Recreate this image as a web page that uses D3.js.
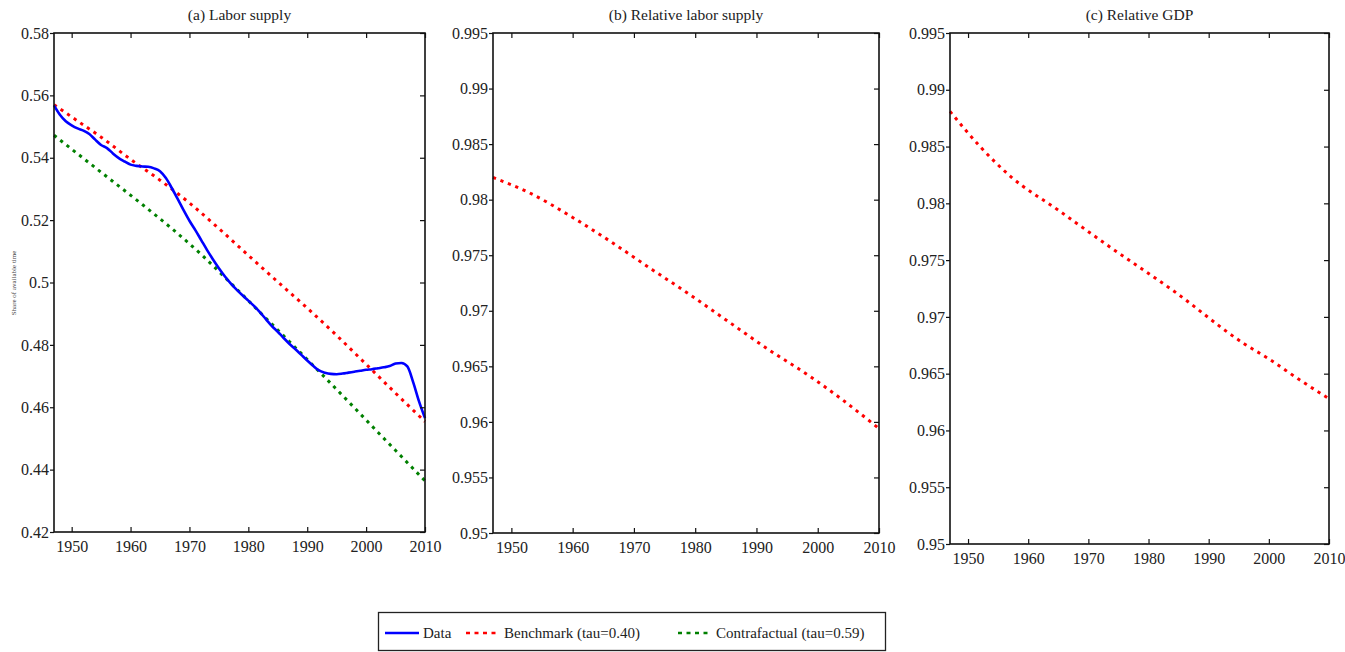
<!DOCTYPE html>
<html>
<head>
<meta charset="utf-8">
<script src="https://cdn.jsdelivr.net/npm/d3@7"></script>
<style>
  html, body { margin: 0; padding: 0; background: #fff; }
</style>
</head>
<body>
<svg id="chart" width="1345" height="652"></svg>
<script>
// ---------------- DATA ----------------
const panelTitles = ["(a) Labor supply", "(b) Relative labor supply", "(c) Relative GDP"];
const xTicks = [1950, 1960, 1970, 1980, 1990, 2000, 2010];
const xDomain = [1947, 2010];

const yTicksA = [0.42, 0.44, 0.46, 0.48, 0.50, 0.52, 0.54, 0.56, 0.58];
const yTickLabelsA = ["0.42", "0.44", "0.46", "0.48", "0.5", "0.52", "0.54", "0.56", "0.58"];
const yTicksBC = [0.95, 0.955, 0.96, 0.965, 0.97, 0.975, 0.98, 0.985, 0.99, 0.995];
const yTickLabelsBC = ["0.95", "0.955", "0.96", "0.965", "0.97", "0.975", "0.98", "0.985", "0.99", "0.995"];

// Panel (a) Data (blue)
const dataYears = [1947,1948,1949,1950,1951,1952,1953,1954,1955,1956,1957,1958,1959,1960,1961,1962,1963,1964,1965,1966,1967,1968,1969,1970,1971,1972,1973,1974,1975,1976,1977,1978,1979,1980,1981,1982,1983,1984,1985,1986,1987,1988,1989,1990,1991,1992,1993,1994,1995,1996,1997,1998,1999,2000,2001,2002,2003,2004,2005,2006,2007,2008,2009,2010];
const dataValues = [0.5568,0.5538,0.5517,0.5504,0.5494,0.5487,0.5476,0.5458,0.5441,0.5431,0.5414,0.5399,0.5388,0.5378,0.5374,0.5372,0.5371,0.5366,0.5357,0.5335,0.5303,0.5268,0.5232,0.5198,0.5168,0.5136,0.5104,0.5074,0.5046,0.5020,0.4997,0.4977,0.4959,0.4942,0.4924,0.4904,0.4882,0.4860,0.4842,0.4822,0.4803,0.4786,0.4768,0.4750,0.4733,0.4718,0.4711,0.4707,0.4706,0.4708,0.4711,0.4714,0.4717,0.4720,0.4722,0.4725,0.4728,0.4732,0.4740,0.4742,0.4731,0.4680,0.4618,0.4565];

// Panel (a) Benchmark (red)
const benchYears = [1947,1951,1955,1960,1965,1970,1975,1980,1985,1990,1995,2000,2005,2010];
const benchValues = [0.5570,0.5518,0.5466,0.5395,0.5328,0.5255,0.5173,0.5087,0.5002,0.4918,0.4830,0.4738,0.4645,0.4554];

// Panel (a) Contrafactual (green)
const contraYears = [1947,1952,1957,1962,1967,1972,1977,1982,1987,1992,1997,2002,2006,2010];
const contraValues = [0.5472,0.5398,0.5324,0.5250,0.5173,0.5090,0.4998,0.4904,0.4810,0.4715,0.4618,0.4520,0.4442,0.4364];

// Panel (b) Relative labor supply (red)
const relLaborYears = [1947,1953,1960,1966,1973,1979,1986,1992,1999,2004,2010];
const relLaborValues = [0.9820,0.9806,0.9784,0.9763,0.9737,0.9715,0.9688,0.9665,0.9640,0.9620,0.9594];

// Panel (c) Relative GDP (red)
const relGdpYears = [1947,1952,1957,1965,1974,1984,1996,2000,2005,2010];
const relGdpValues = [0.9881,0.9850,0.9824,0.9794,0.9760,0.97235,0.9676,0.9663,0.9645,0.9628];

const legendLabels = ["Data", "Benchmark (tau=0.40)", "Contrafactual (tau=0.59)"];

// ---------------- STYLE ----------------
const FONT = "'Liberation Serif', 'Times New Roman', 'DejaVu Serif', serif";
const BLUE = "#0000ff", RED = "#ff0000", GREEN = "#008000";
const DOT = "3.2,4.8";

const svg = d3.select("#chart").attr("font-family", FONT);

function zip(xs, ys) { return xs.map((x, i) => ({x, y: ys[i]})); }

function drawPanel(p) {
  const x = d3.scaleLinear().domain(xDomain).range([p.left, p.right]);
  const y = d3.scaleLinear().domain(p.yDomain).range([p.bottom, p.top]);
  const g = svg.append("g");

  const line = d3.line().x(d => x(d.x)).y(d => y(d.y)).curve(d3.curveMonotoneX);
  p.series.forEach(s => {
    g.append("path")
      .attr("d", line(zip(s.xs, s.ys)))
      .attr("fill", "none")
      .attr("stroke", s.color)
      .attr("stroke-width", s.dash ? 3 : 2.6)
      .attr("stroke-dasharray", s.dash ? DOT : null)
      .attr("stroke-linejoin", "round");
  });

  const len = 5;
  const bottomAxis = d3.axisBottom(x).tickValues(xTicks).tickFormat(d3.format("d"))
    .tickSizeInner(-len).tickSizeOuter(0).tickPadding(9);
  const gb = g.append("g").attr("transform", `translate(0,${p.bottom})`).call(bottomAxis);
  gb.select(".domain").remove();

  const topAxis = d3.axisTop(x).tickValues(xTicks).tickFormat("")
    .tickSizeInner(-len).tickSizeOuter(0);
  const gt = g.append("g").attr("transform", `translate(0,${p.top})`).call(topAxis);
  gt.select(".domain").remove();

  const leftAxis = d3.axisLeft(y).tickValues(p.yTicks)
    .tickFormat((d, i) => p.yLabels[i]).tickSizeInner(4).tickSizeOuter(0).tickPadding(1);
  const gl = g.append("g").attr("transform", `translate(${p.left},0)`).call(leftAxis);
  gl.select(".domain").remove();

  const rightAxis = d3.axisRight(y).tickValues(p.yTicks).tickFormat("")
    .tickSizeInner(-len).tickSizeOuter(0);
  const gr = g.append("g").attr("transform", `translate(${p.right},0)`).call(rightAxis);
  gr.select(".domain").remove();

  [gb, gt, gl, gr].forEach(a => a.attr("font-family", FONT).attr("font-size", 16));
  g.selectAll(".tick text").attr("fill", "#222");
  g.selectAll(".tick line").attr("stroke", "#111").attr("stroke-width", 1.2);

  g.append("rect")
    .attr("x", p.left).attr("y", p.top)
    .attr("width", p.right - p.left).attr("height", p.bottom - p.top)
    .attr("fill", "none").attr("stroke", "#111").attr("stroke-width", 1.6);

  g.append("text")
    .attr("x", (p.left + p.right) / 2).attr("y", 20)
    .attr("text-anchor", "middle").attr("font-size", 15.5).attr("fill", "#222")
    .text(p.title);
}

drawPanel({
  left: 54, right: 425, top: 33, bottom: 532,
  yDomain: [0.42, 0.58], yTicks: yTicksA, yLabels: yTickLabelsA, title: panelTitles[0],
  series: [
    {xs: benchYears, ys: benchValues, color: RED, dash: true},
    {xs: contraYears, ys: contraValues, color: GREEN, dash: true},
    {xs: dataYears, ys: dataValues, color: BLUE, dash: false}
  ]
});
drawPanel({
  left: 493, right: 879, top: 33, bottom: 533,
  yDomain: [0.95, 0.995], yTicks: yTicksBC, yLabels: yTickLabelsBC, title: panelTitles[1],
  series: [{xs: relLaborYears, ys: relLaborValues, color: RED, dash: true}]
});
drawPanel({
  left: 950, right: 1329, top: 33, bottom: 544,
  yDomain: [0.95, 0.995], yTicks: yTicksBC, yLabels: yTickLabelsBC, title: panelTitles[2],
  series: [{xs: relGdpYears, ys: relGdpValues, color: RED, dash: true}]
});

svg.append("text")
  .attr("transform", "translate(16,283) rotate(-90)")
  .attr("text-anchor", "middle").attr("font-size", 7).attr("fill", "#444")
  .text("Share of available time");

// ---------------- LEGEND ----------------
const lg = svg.append("g");
lg.append("rect").attr("x", 378.5).attr("y", 612.5).attr("width", 507).attr("height", 38)
  .attr("fill", "#fff").attr("stroke", "#222").attr("stroke-width", 1.3);
const legendItems = [
  {x0: 385, x1: 419, tx: 423, color: BLUE, dash: false, label: legendLabels[0]},
  {x0: 466, x1: 499, tx: 504, color: RED, dash: true, label: legendLabels[1]},
  {x0: 678, x1: 711, tx: 716, color: GREEN, dash: true, label: legendLabels[2]}
];
const ly = 633;
legendItems.forEach(it => {
  lg.append("line").attr("x1", it.x0).attr("x2", it.x1).attr("y1", ly).attr("y2", ly)
    .attr("stroke", it.color).attr("stroke-width", 2.6)
    .attr("stroke-dasharray", it.dash ? "4,4.5" : null);
  lg.append("text").attr("x", it.tx).attr("y", ly).attr("dy", "0.35em")
    .attr("font-size", 15).attr("fill", "#222").text(it.label);
});
</script>
</body>
</html>
